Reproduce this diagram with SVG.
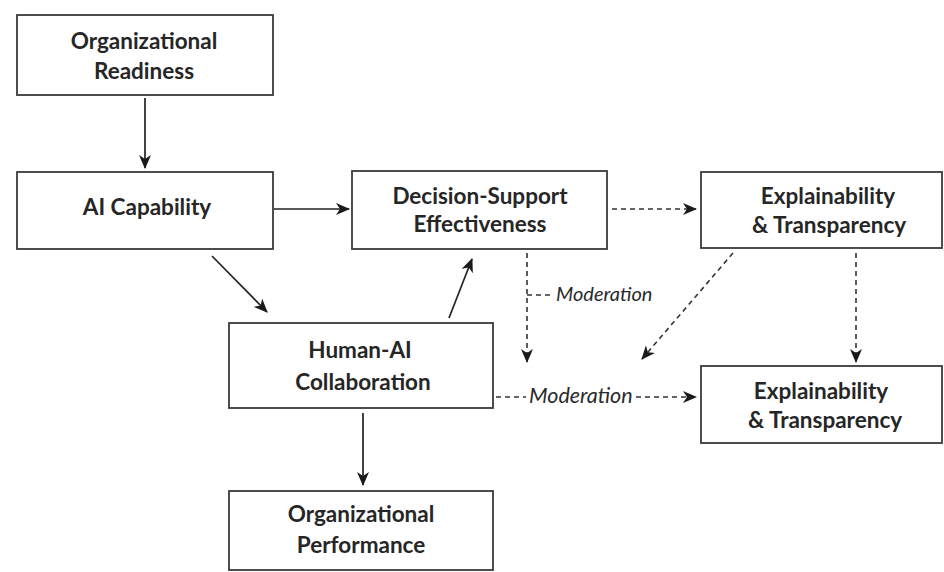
<svg xmlns="http://www.w3.org/2000/svg" width="944" height="572" viewBox="0 0 944 572">
  <style>
    .box { fill: #ffffff; stroke: #3a3a3a; stroke-width: 1.8; }
    .lbl { font-family: Lato, "Liberation Sans", sans-serif; font-weight: bold; font-size: 22.5px; fill: #262626; text-anchor: middle; }
    .mod { font-family: Lato, "Liberation Sans", sans-serif; font-style: italic; font-size: 20px; fill: #2a2a2a; }
    .solid { stroke: #222; stroke-width: 1.7; fill: none; }
    .dash { stroke: #333; stroke-width: 1.6; fill: none; stroke-dasharray: 5 4; }
  </style>
  <defs>
    <marker id="ah" viewBox="0 0 14 12" refX="13" refY="6" markerWidth="14" markerHeight="12" markerUnits="userSpaceOnUse" orient="auto">
      <path d="M0,0 L14,6 L0,12 L4,6 z" fill="#1a1a1a"/>
    </marker>
  </defs>
  <rect width="944" height="572" fill="#ffffff"/>

  <g id="connectors">
    <line class="solid" x1="145" y1="98" x2="145" y2="168" marker-end="url(#ah)"/>
    <line class="solid" x1="274" y1="209" x2="349" y2="209" marker-end="url(#ah)"/>
    <line class="solid" x1="212" y1="256" x2="267" y2="312" marker-end="url(#ah)"/>
    <line class="solid" x1="449" y1="318" x2="472" y2="259" marker-end="url(#ah)"/>
    <line class="solid" x1="363" y1="413" x2="363" y2="485" marker-end="url(#ah)"/>
    <line class="dash" x1="612" y1="209" x2="696" y2="209" marker-end="url(#ah)"/>
    <line class="dash" x1="527" y1="253" x2="527" y2="362" marker-end="url(#ah)"/>
    <line class="dash" x1="527" y1="295" x2="553" y2="295"/>
    <line class="dash" x1="733" y1="253" x2="642" y2="359" marker-end="url(#ah)"/>
    <line class="dash" x1="856" y1="253" x2="856" y2="362" marker-end="url(#ah)"/>
    <line class="dash" x1="496" y1="397" x2="526" y2="397"/>
    <line class="dash" x1="636" y1="397" x2="696" y2="397" marker-end="url(#ah)"/>
    <text class="mod" x="556" y="301">Moderation</text>
    <text class="mod" x="529" y="403" style="font-size:21.5px">Moderation</text>
  </g>

  <g id="org-readiness">
    <rect class="box" x="17" y="15" width="256" height="80"/>
    <text class="lbl" x="144" y="49">Organizational</text>
    <text class="lbl" x="144" y="79">Readiness</text>
  </g>

  <g id="ai-capability">
    <rect class="box" x="17" y="172" width="256" height="77"/>
    <text class="lbl" x="147" y="215">AI Capability</text>
  </g>

  <g id="decision-support">
    <rect class="box" x="352" y="171" width="255" height="78"/>
    <text class="lbl" x="480" y="204">Decision-Support</text>
    <text class="lbl" x="480" y="232">Effectiveness</text>
  </g>

  <g id="explainability-top">
    <rect class="box" x="701" y="172" width="241" height="76"/>
    <text class="lbl" x="828" y="204">Explainability</text>
    <text class="lbl" x="829" y="233">&amp; Transparency</text>
  </g>

  <g id="human-ai">
    <rect class="box" x="229" y="323" width="264" height="85"/>
    <text class="lbl" x="360" y="358">Human-AI</text>
    <text class="lbl" x="363" y="390">Collaboration</text>
  </g>

  <g id="explainability-bottom">
    <rect class="box" x="701" y="366" width="241" height="77"/>
    <text class="lbl" x="821" y="399">Explainability</text>
    <text class="lbl" x="825" y="428">&amp; Transparency</text>
  </g>

  <g id="org-performance">
    <rect class="box" x="229" y="491" width="264" height="79"/>
    <text class="lbl" x="361" y="522">Organizational</text>
    <text class="lbl" x="361" y="553">Performance</text>
  </g>
</svg>
